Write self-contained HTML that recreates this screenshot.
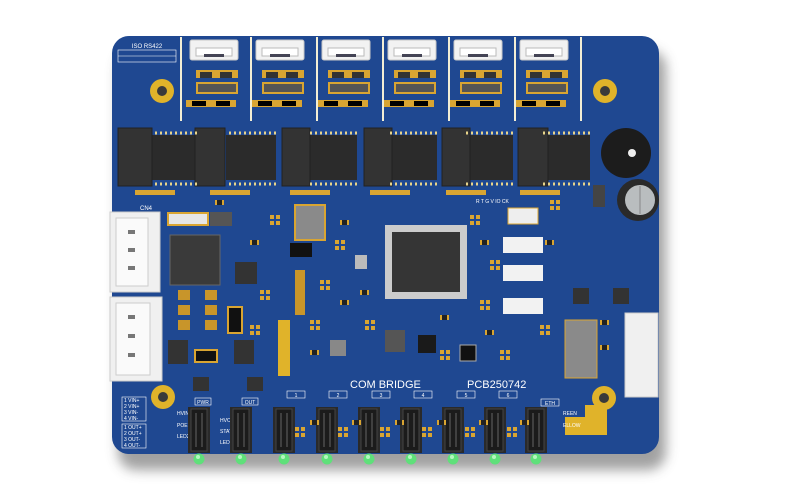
<!DOCTYPE html>
<html><head><meta charset="utf-8"><style>
html,body{margin:0;padding:0;background:#fff;width:800px;height:493px;overflow:hidden}
svg{display:block}
text{font-family:"Liberation Sans",sans-serif}
</style></head><body>
<svg width="800" height="493" viewBox="0 0 800 493" xmlns="http://www.w3.org/2000/svg">
<defs>
<filter id="sh" x="-10%" y="-10%" width="120%" height="130%"><feGaussianBlur stdDeviation="6"/></filter>
<g id="conn"><rect x="0" y="0" width="48" height="20" rx="2" fill="#f2f2f2" stroke="#c8c8c8"/><rect x="6" y="8" width="36" height="8" fill="#fff" stroke="#bbb"/><rect x="14" y="14" width="20" height="3" fill="#445"/></g>
<g id="smd"><rect width="9" height="5" fill="#d9a532"/><rect x="2" width="5" height="5" fill="#222"/></g>
<g id="pp"><rect width="4" height="4" fill="#d9a532"/><rect x="6" width="4" height="4" fill="#d9a532"/><rect y="6" width="4" height="4" fill="#d9a532"/><rect x="6" y="6" width="4" height="4" fill="#d9a532"/></g>
<g id="led"><rect x="0" y="0" width="22" height="46" fill="#2a2a2a"/><rect x="3" y="2" width="16" height="42" fill="#1b1b1b" stroke="#444"/><line x1="8" y1="6" x2="8" y2="40" stroke="#666"/><line x1="14" y1="6" x2="14" y2="40" stroke="#666"/><circle cx="11" cy="52" r="5.5" fill="#5fe07a"/><circle cx="10" cy="50" r="2" fill="#b5f7c0"/></g>
</defs>
<rect x="118" y="50" width="548" height="420" rx="18" fill="#444" opacity="0.5" filter="url(#sh)"/>
<rect x="112" y="36" width="547" height="418" rx="17" fill="#1f4891"/>
<text x="147" y="48" font-size="6" fill="#fff" text-anchor="middle">ISO RS422</text>
<rect x="118" y="50" width="58" height="12" fill="none" stroke="#fff" stroke-width="0.6"/>
<line x1="118" y1="56" x2="176" y2="56" stroke="#fff" stroke-width="0.5"/>
<g fill="#f3eed5">
<rect x="180" y="37" width="2" height="84"/><rect x="250" y="37" width="2" height="84"/><rect x="316" y="37" width="2" height="84"/><rect x="382" y="37" width="2" height="84"/><rect x="448" y="37" width="2" height="84"/><rect x="514" y="37" width="2" height="84"/><rect x="580" y="37" width="2" height="84"/>
</g>
<g>
<use href="#conn" x="190" y="40"/><use href="#conn" x="256" y="40"/><use href="#conn" x="322" y="40"/><use href="#conn" x="388" y="40"/><use href="#conn" x="454" y="40"/><use href="#conn" x="520" y="40"/>
</g>
<g fill="#d9a532">
<rect x="196" y="70" width="42" height="8"/><rect x="262" y="70" width="42" height="8"/><rect x="328" y="70" width="42" height="8"/><rect x="394" y="70" width="42" height="8"/><rect x="460" y="70" width="42" height="8"/><rect x="526" y="70" width="42" height="8"/>
<rect x="196" y="82" width="42" height="12"/><rect x="262" y="82" width="42" height="12"/><rect x="328" y="82" width="42" height="12"/><rect x="394" y="82" width="42" height="12"/><rect x="460" y="82" width="42" height="12"/><rect x="526" y="82" width="42" height="12"/>
<rect x="186" y="100" width="50" height="7"/><rect x="252" y="100" width="50" height="7"/><rect x="318" y="100" width="50" height="7"/><rect x="384" y="100" width="50" height="7"/><rect x="450" y="100" width="50" height="7"/><rect x="516" y="100" width="50" height="7"/>
</g>
<g fill="#333">
<rect x="200" y="72" width="12" height="6"/><rect x="220" y="72" width="12" height="6"/><rect x="266" y="72" width="12" height="6"/><rect x="286" y="72" width="12" height="6"/><rect x="332" y="72" width="12" height="6"/><rect x="352" y="72" width="12" height="6"/><rect x="398" y="72" width="12" height="6"/><rect x="418" y="72" width="12" height="6"/><rect x="464" y="72" width="12" height="6"/><rect x="484" y="72" width="12" height="6"/><rect x="530" y="72" width="12" height="6"/><rect x="550" y="72" width="12" height="6"/>
<rect x="198" y="84" width="38" height="8" fill="#555"/><rect x="264" y="84" width="38" height="8" fill="#555"/><rect x="330" y="84" width="38" height="8" fill="#555"/><rect x="396" y="84" width="38" height="8" fill="#555"/><rect x="462" y="84" width="38" height="8" fill="#555"/><rect x="528" y="84" width="38" height="8" fill="#555"/>
<rect x="192" y="101" width="14" height="5" fill="#000"/><rect x="216" y="101" width="14" height="5" fill="#000"/><rect x="258" y="101" width="14" height="5" fill="#000"/><rect x="282" y="101" width="14" height="5" fill="#000"/><rect x="324" y="101" width="14" height="5" fill="#000"/><rect x="348" y="101" width="14" height="5" fill="#000"/><rect x="390" y="101" width="14" height="5" fill="#000"/><rect x="414" y="101" width="14" height="5" fill="#000"/><rect x="456" y="101" width="14" height="5" fill="#000"/><rect x="480" y="101" width="14" height="5" fill="#000"/><rect x="522" y="101" width="14" height="5" fill="#000"/><rect x="546" y="101" width="14" height="5" fill="#000"/>
</g>
<g><circle cx="162" cy="91" r="12" fill="#e0b32a"/><circle cx="162" cy="91" r="5" fill="#3a3a3a"/>
<circle cx="605" cy="91" r="12" fill="#e0b32a"/><circle cx="605" cy="91" r="5" fill="#3a3a3a"/>
<circle cx="163" cy="397" r="12" fill="#e0b32a"/><circle cx="163" cy="397" r="5" fill="#3a3a3a"/>
<circle cx="604" cy="398" r="12" fill="#e0b32a"/><circle cx="604" cy="398" r="5" fill="#3a3a3a"/></g>
<g>
<rect x="152" y="135" width="50" height="45" fill="#2b2b2b"/><rect x="226" y="135" width="50" height="45" fill="#2b2b2b"/><rect x="307" y="135" width="50" height="45" fill="#2b2b2b"/><rect x="387" y="135" width="50" height="45" fill="#2b2b2b"/><rect x="463" y="135" width="50" height="45" fill="#2b2b2b"/><rect x="540" y="135" width="50" height="45" fill="#2b2b2b"/>
<rect x="118" y="128" width="34" height="58" fill="#333" stroke="#222"/><rect x="195" y="128" width="30" height="58" fill="#333" stroke="#222"/><rect x="282" y="128" width="28" height="58" fill="#333" stroke="#222"/><rect x="364" y="128" width="28" height="58" fill="#333" stroke="#222"/><rect x="442" y="128" width="28" height="58" fill="#333" stroke="#222"/><rect x="518" y="128" width="30" height="58" fill="#333" stroke="#222"/>
</g>
<g stroke="#e8d48a" stroke-width="3" stroke-dasharray="2 3">
<line x1="155" y1="133" x2="200" y2="133"/><line x1="155" y1="184" x2="200" y2="184"/>
<line x1="229" y1="133" x2="276" y2="133"/><line x1="229" y1="184" x2="276" y2="184"/>
<line x1="310" y1="133" x2="357" y2="133"/><line x1="310" y1="184" x2="357" y2="184"/>
<line x1="390" y1="133" x2="437" y2="133"/><line x1="390" y1="184" x2="437" y2="184"/>
<line x1="466" y1="133" x2="513" y2="133"/><line x1="466" y1="184" x2="513" y2="184"/>
<line x1="543" y1="133" x2="590" y2="133"/><line x1="543" y1="184" x2="590" y2="184"/>
</g>
<g fill="#d9a532">
<rect x="135" y="190" width="40" height="5"/><rect x="210" y="190" width="40" height="5"/><rect x="290" y="190" width="40" height="5"/><rect x="370" y="190" width="40" height="5"/><rect x="446" y="190" width="40" height="5"/><rect x="520" y="190" width="40" height="5"/>
</g>
<circle cx="626" cy="153" r="25" fill="#1c1c1c"/><circle cx="632" cy="153" r="4" fill="#eee"/>
<circle cx="638" cy="200" r="21" fill="#2a2a2a"/><circle cx="640" cy="200" r="15" fill="#b9bdbf"/><line x1="640" y1="186" x2="640" y2="214" stroke="#888"/>
<rect x="593" y="185" width="12" height="22" fill="#444"/>
<text x="140" y="210" font-size="6" fill="#fff">CN4</text>
<rect x="110" y="212" width="50" height="80" fill="#f0f0f0" stroke="#ccc"/><rect x="116" y="218" width="32" height="68" fill="#fafafa" stroke="#ccc"/>
<rect x="110" y="297" width="52" height="84" fill="#f0f0f0" stroke="#ccc"/><rect x="116" y="303" width="34" height="72" fill="#fafafa" stroke="#ccc"/>
<g fill="#777"><rect x="128" y="230" width="7" height="4"/><rect x="128" y="248" width="7" height="4"/><rect x="128" y="266" width="7" height="4"/><rect x="128" y="315" width="7" height="4"/><rect x="128" y="334" width="7" height="4"/><rect x="128" y="353" width="7" height="4"/></g>
<rect x="168" y="213" width="40" height="12" fill="#e6e6e6" stroke="#d9a532" stroke-width="2"/>
<rect x="210" y="212" width="22" height="14" fill="#555"/>
<rect x="170" y="235" width="50" height="50" fill="#3a3a3a" stroke="#666"/>
<rect x="235" y="262" width="22" height="22" fill="#333"/>
<rect x="228" y="307" width="14" height="26" fill="#111" stroke="#d9a532" stroke-width="2"/>
<rect x="195" y="350" width="22" height="12" fill="#111" stroke="#d9a532" stroke-width="2"/>
<rect x="168" y="340" width="20" height="24" fill="#333"/><rect x="234" y="340" width="20" height="24" fill="#333"/>
<g fill="#c8952a"><rect x="178" y="290" width="12" height="10"/><rect x="205" y="290" width="12" height="10"/><rect x="178" y="305" width="12" height="10"/><rect x="205" y="305" width="12" height="10"/><rect x="178" y="320" width="12" height="10"/><rect x="205" y="320" width="12" height="10"/>
<rect x="295" y="270" width="10" height="45"/><rect x="278" y="320" width="12" height="56" fill="#e0b32a"/></g>
<rect x="295" y="205" width="30" height="35" fill="#8a8a8a" stroke="#d9a532" stroke-width="2"/>
<rect x="290" y="243" width="22" height="14" fill="#111"/>
<rect x="330" y="340" width="16" height="16" fill="#888"/>
<rect x="385" y="225" width="82" height="74" fill="#ccc"/>
<rect x="392" y="232" width="68" height="60" fill="#353535"/>
<rect x="385" y="330" width="20" height="22" fill="#555"/>
<rect x="418" y="335" width="18" height="18" fill="#1a1a1a"/>
<rect x="460" y="345" width="16" height="16" fill="#111" stroke="#aaa"/>
<rect x="355" y="255" width="12" height="14" fill="#bbb"/>
<text x="476" y="203" font-size="5" fill="#fff">R T G V IO CK</text>
<rect x="508" y="208" width="30" height="16" fill="#eee" stroke="#d9a532"/>
<rect x="503" y="237" width="40" height="16" fill="#f2f2f2"/><rect x="503" y="265" width="40" height="16" fill="#f2f2f2"/><rect x="503" y="298" width="40" height="16" fill="#f2f2f2"/>
<rect x="565" y="320" width="32" height="58" fill="#8a8a8a" stroke="#d9a532"/>
<rect x="573" y="288" width="16" height="16" fill="#333"/><rect x="613" y="288" width="16" height="16" fill="#333"/>
<rect x="625" y="313" width="33" height="84" fill="#f0f0f0" stroke="#ccc"/>
<path d="M585 405 h22 v30 h-42 v-18 h20 z" fill="#e0b32a"/>
<text x="350" y="388" font-size="11" fill="#fff">COM BRIDGE</text>
<text x="467" y="388" font-size="11" fill="#fff">PCB250742</text>
<g stroke="#fff" stroke-width="0.6" fill="none"><rect x="122" y="397" width="24" height="24"/><rect x="122" y="424" width="24" height="24"/></g>
<g font-size="5" fill="#fff"><text x="124" y="402">1 VIN+</text><text x="124" y="408">2 VIN+</text><text x="124" y="414">3 VIN-</text><text x="124" y="420">4 VIN-</text><text x="124" y="429">1 OUT+</text><text x="124" y="435">2 OUT+</text><text x="124" y="441">3 OUT-</text><text x="124" y="447">4 OUT-</text>
<text x="177" y="415">HVIN</text><text x="177" y="427">POE</text><text x="177" y="438">LED2</text><text x="220" y="422">HVOU</text><text x="220" y="433">STATU</text><text x="220" y="444">LED</text>
<text x="530" y="415">RX</text><text x="563" y="415">REEN</text><text x="563" y="427">ELLOW</text></g>
<g stroke="#fff" stroke-width="0.6" fill="none"><rect x="195" y="398" width="16" height="7"/><rect x="242" y="398" width="16" height="7"/><rect x="287" y="391" width="18" height="7"/><rect x="329" y="391" width="18" height="7"/><rect x="372" y="391" width="18" height="7"/><rect x="414" y="391" width="18" height="7"/><rect x="457" y="391" width="18" height="7"/><rect x="499" y="391" width="18" height="7"/><rect x="541" y="399" width="18" height="7"/></g>
<g font-size="5" fill="#fff" text-anchor="middle"><text x="203" y="404">PWR</text><text x="250" y="404">OUT</text><text x="296" y="397">1</text><text x="338" y="397">2</text><text x="381" y="397">3</text><text x="423" y="397">4</text><text x="466" y="397">5</text><text x="508" y="397">6</text><text x="550" y="405">ETH</text></g>
<rect x="193" y="377" width="16" height="14" fill="#333"/><rect x="247" y="377" width="16" height="14" fill="#333"/>
<use href="#led" x="188" y="407"/><use href="#led" x="230" y="407"/><use href="#led" x="273" y="407"/><use href="#led" x="316" y="407"/><use href="#led" x="358" y="407"/><use href="#led" x="400" y="407"/><use href="#led" x="442" y="407"/><use href="#led" x="484" y="407"/><use href="#led" x="525" y="407"/>
<g>
<use href="#smd" x="215" y="200"/><use href="#smd" x="250" y="240"/><use href="#smd" x="340" y="220"/><use href="#smd" x="340" y="300"/><use href="#smd" x="310" y="350"/><use href="#smd" x="360" y="290"/><use href="#smd" x="480" y="240"/><use href="#smd" x="485" y="330"/><use href="#smd" x="440" y="315"/><use href="#smd" x="545" y="240"/><use href="#smd" x="600" y="320"/><use href="#smd" x="600" y="345"/><use href="#smd" x="310" y="420"/><use href="#smd" x="352" y="420"/><use href="#smd" x="395" y="420"/><use href="#smd" x="437" y="420"/><use href="#smd" x="479" y="420"/><use href="#smd" x="520" y="420"/>
<use href="#pp" x="270" y="215"/><use href="#pp" x="335" y="240"/><use href="#pp" x="320" y="280"/><use href="#pp" x="310" y="320"/><use href="#pp" x="365" y="320"/><use href="#pp" x="480" y="300"/><use href="#pp" x="490" y="260"/><use href="#pp" x="550" y="200"/><use href="#pp" x="470" y="215"/><use href="#pp" x="260" y="290"/><use href="#pp" x="250" y="325"/><use href="#pp" x="440" y="350"/><use href="#pp" x="500" y="350"/><use href="#pp" x="540" y="325"/><use href="#pp" x="295" y="427"/><use href="#pp" x="338" y="427"/><use href="#pp" x="380" y="427"/><use href="#pp" x="422" y="427"/><use href="#pp" x="465" y="427"/><use href="#pp" x="507" y="427"/>
</g>
</svg>
</body></html>
